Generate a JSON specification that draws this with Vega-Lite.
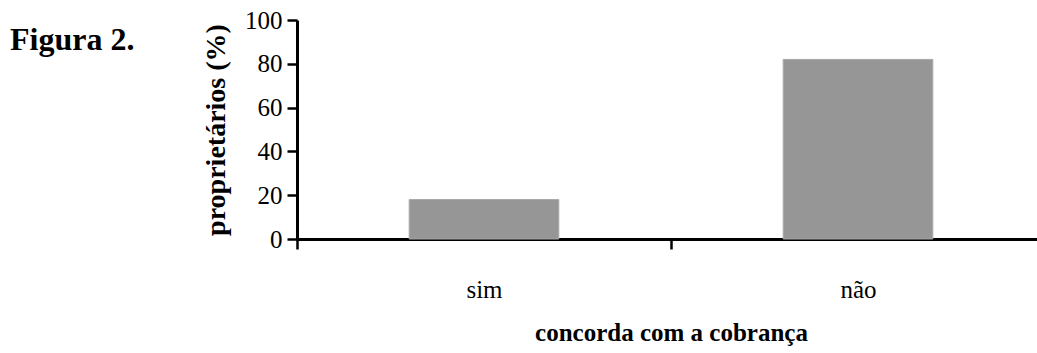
{
  "$schema": "https://vega.github.io/schema/vega-lite/v6.json",
  "autosize": "none",
  "width": 748,
  "height": 219,
  "padding": {"left": 297, "top": 20, "right": 0, "bottom": 114},
  "background": "white",
  "title": {
    "text": "Figura 2.",
    "anchor": "start",
    "frame": "group",
    "dx": -287,
    "dy": 16,
    "offset": -58,
    "baseline": "alphabetic",
    "font": "Liberation Serif",
    "fontSize": 32,
    "fontWeight": "bold",
    "color": "black"
  },
  "data": {
    "values": [
      {"resposta": "sim", "percentual": 18},
      {"resposta": "não", "percentual": 82}
    ]
  },
  "mark": {"type": "bar", "color": "#969696", "stroke": "#a8a8a8", "strokeWidth": 1, "width": {"band": 0.4}},
  "encoding": {
    "x": {
      "field": "resposta",
      "type": "nominal",
      "sort": null,
      "scale": {"paddingInner": 0, "paddingOuter": 0},
      "title": "concorda com a cobrança",
      "axis": {
        "tickBand": "extent",
        "labelAngle": 0,
        "domainColor": "black",
        "domainWidth": 3,
        "tickColor": "black",
        "tickWidth": 2.5,
        "tickSize": 10,
        "labelPadding": 28,
        "labelFont": "Liberation Serif",
        "labelFontSize": 25,
        "labelColor": "black",
        "titleFont": "Liberation Serif",
        "titleFontSize": 25,
        "titleFontWeight": "bold",
        "titleColor": "black",
        "titlePadding": 18
      }
    },
    "y": {
      "field": "percentual",
      "type": "quantitative",
      "scale": {"domain": [0, 100]},
      "title": "proprietários (%)",
      "axis": {
        "values": [0, 20, 40, 60, 80, 100],
        "grid": false,
        "domainColor": "black",
        "domainWidth": 3,
        "tickColor": "black",
        "tickWidth": 2.5,
        "tickSize": 10,
        "labelPadding": 5,
        "labelFont": "Liberation Serif",
        "labelFontSize": 25,
        "labelColor": "black",
        "titleFont": "Liberation Serif",
        "titleFontSize": 28,
        "titleFontWeight": "bold",
        "titleColor": "black",
        "titlePadding": 14
      }
    }
  },
  "config": {"view": {"stroke": null}}
}
